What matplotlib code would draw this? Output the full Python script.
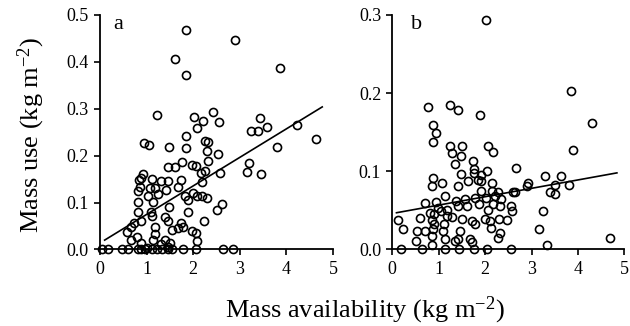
import matplotlib
matplotlib.use("Agg")
import matplotlib.pyplot as plt
import numpy as np

plt.rcParams['font.family'] = ['Liberation Serif', 'DejaVu Serif']
plt.rcParams['mathtext.fontset'] = 'custom'
plt.rcParams['mathtext.rm'] = 'Liberation Serif'
plt.rcParams['mathtext.it'] = 'Liberation Serif:italic'

# panel a: mass use vs mass availability
a_x = [1.84, 2.89, 1.61, 1.84, 3.86, 1.22, 2.02, 2.21, 2.43, 2.56, 2.09, 1.84,
       3.43, 3.25, 3.39, 3.59, 4.23, 4.63, 3.79, 0.94, 1.06, 1.48, 1.84, 2.25,
       2.32, 2.29, 2.54, 2.32, 1.77, 1.98, 2.07, 1.46, 1.61, 3.19, 3.15, 3.45,
       2.57, 2.16, 2.25, 0.93, 0.89, 1.11, 0.84, 1.32, 1.45, 1.74, 2.18, 0.86,
       1.07, 1.18, 1.68, 1.41, 0.81, 1.25, 1.04, 1.82, 2.00, 2.09, 2.20, 2.29,
       0.81, 1.14, 1.89, 2.61, 1.48, 2.52, 0.82, 1.09, 1.89, 1.11, 1.39, 0.88,
       1.45, 2.24, 0.74, 1.74, 1.79, 1.68, 1.19, 1.54, 0.66, 0.59, 1.98, 2.05,
       1.18, 0.79, 0.66, 1.39, 1.14, 2.09, 1.50, 0.88, 1.31, 1.00, 1.45,
       0.04, 0.17, 0.47, 0.60, 0.82, 0.89, 0.96, 1.12, 1.23, 1.34, 1.45, 1.54,
       1.78, 2.05, 2.64, 2.86]
a_y = [0.467, 0.447, 0.406, 0.371, 0.388, 0.287, 0.283, 0.274, 0.294, 0.271,
       0.259, 0.241, 0.280, 0.252, 0.252, 0.261, 0.266, 0.236, 0.218, 0.227,
       0.223, 0.218, 0.216, 0.231, 0.229, 0.211, 0.204, 0.188, 0.186, 0.181,
       0.177, 0.175, 0.176, 0.184, 0.166, 0.161, 0.164, 0.164, 0.167, 0.161,
       0.152, 0.150, 0.149, 0.145, 0.146, 0.149, 0.143, 0.134, 0.131, 0.131,
       0.134, 0.127, 0.124, 0.118, 0.113, 0.113, 0.120, 0.113, 0.113, 0.109,
       0.102, 0.102, 0.106, 0.097, 0.091, 0.084, 0.081, 0.081, 0.079, 0.071,
       0.070, 0.061, 0.061, 0.061, 0.057, 0.056, 0.049, 0.045, 0.047, 0.041,
       0.049, 0.037, 0.040, 0.036, 0.034, 0.026, 0.020, 0.021, 0.020, 0.019,
       0.014, 0.013, 0.011, 0.004, 0.006,
       0, 0, 0, 0, 0, 0, 0, 0, 0, 0, 0, 0, 0, 0, 0, 0]
a_fit_x = [0.1, 4.77]
a_fit_y = [0.020, 0.304]

# panel b
b_x = [2.01, 3.86, 4.30, 0.77, 1.25, 1.41, 1.89, 0.87, 0.94, 0.88, 1.24, 1.51,
       2.06, 2.17, 1.28, 1.48, 3.89, 1.35, 1.74, 1.75, 1.76, 1.49, 1.92, 2.04,
       2.67, 3.30, 3.64, 0.87, 0.85, 1.08, 1.42, 1.63, 1.85, 1.92, 2.15, 2.92,
       2.90, 3.50, 3.81, 3.39, 3.50, 2.60, 2.64, 2.28, 2.14, 1.91, 1.13, 0.70,
       0.95, 1.38, 1.56, 1.78, 2.01, 2.21, 2.35, 0.99, 1.17, 1.42, 1.60, 1.86,
       2.06, 2.17, 2.32, 2.55, 2.57, 3.25, 0.81, 0.90, 1.06, 1.17, 1.28, 0.85,
       0.59, 0.13, 1.51, 1.71, 1.99, 2.10, 2.30, 2.48, 0.90, 1.12, 1.78, 2.12,
       0.24, 0.54, 0.70, 0.88, 1.10, 1.46, 2.32, 3.16, 0.85, 1.13, 1.35, 1.42,
       1.67, 1.71, 0.52, 0.85, 2.28, 3.34, 4.70,
       0.18, 0.64, 1.14, 1.43, 1.77, 2.05, 2.56]
b_y = [0.294, 0.203, 0.162, 0.182, 0.185, 0.179, 0.172, 0.159, 0.149, 0.138,
       0.132, 0.133, 0.132, 0.125, 0.123, 0.120, 0.127, 0.109, 0.113, 0.103,
       0.098, 0.097, 0.095, 0.100, 0.104, 0.094, 0.094, 0.091, 0.081, 0.085,
       0.081, 0.088, 0.089, 0.088, 0.085, 0.085, 0.081, 0.082, 0.082, 0.073,
       0.071, 0.073, 0.074, 0.073, 0.075, 0.075, 0.069, 0.060, 0.061, 0.062,
       0.064, 0.066, 0.066, 0.068, 0.065, 0.053, 0.051, 0.056, 0.055, 0.058,
       0.051, 0.058, 0.056, 0.056, 0.049, 0.049, 0.047, 0.046, 0.049, 0.043,
       0.042, 0.038, 0.040, 0.038, 0.039, 0.036, 0.039, 0.036, 0.039, 0.038,
       0.032, 0.032, 0.032, 0.028, 0.026, 0.024, 0.024, 0.026, 0.024, 0.024,
       0.021, 0.026, 0.017, 0.014, 0.011, 0.013, 0.013, 0.009, 0.011, 0.006,
       0.015, 0.006, 0.015,
       0, 0, 0, 0, 0, 0, 0]
b_fit_x = [0.09, 4.84]
b_fit_y = [0.047, 0.098]

fig = plt.figure(figsize=(6.3, 3.26), dpi=100)
ax_a = fig.add_axes([0.1587, 0.2347, 0.3698, 0.7193])
ax_b = fig.add_axes([0.6227, 0.2347, 0.3683, 0.7193])

panels = [
    (ax_a, a_x, a_y, a_fit_x, a_fit_y, 0.5, np.arange(0, 0.51, 0.1), "a", 0.48),
    (ax_b, b_x, b_y, b_fit_x, b_fit_y, 0.3, np.arange(0, 0.31, 0.1), "b", 0.288),
]
for ax, xs, ys, fx, fy, ymax, yt, lab, ly in panels:
    ax.plot(xs, ys, linestyle="none", marker="o", markersize=5.8,
            markerfacecolor="none", markeredgecolor="black",
            markeredgewidth=1.2, clip_on=False, zorder=3)
    ax.plot(fx, fy, color="black", linewidth=1.2)
    ax.set_xlim(0, 5)
    ax.set_ylim(0, ymax)
    ax.set_xticks(range(6))
    ax.set_yticks(yt)
    ax.set_yticklabels([f"{v:.1f}" for v in yt])
    for s in ("top", "right"):
        ax.spines[s].set_visible(False)
    for s in ("left", "bottom"):
        ax.spines[s].set_linewidth(1.3)
    ax.tick_params(direction="out", length=4, width=1.2, labelsize=13, pad=4)
    ax.text(0.28 if lab == "a" else 0.4, ly, lab, fontsize=16, va="center")

fig.text(0.05, 0.585, "Mass use (kg m$^{-2}$)", rotation=90, fontsize=19,
         ha="center", va="center")
fig.text(0.58, 0.047, "Mass availability (kg m$^{-2}$)", fontsize=19,
         ha="center", va="center")

fig.savefig("out.png", dpi=100)
